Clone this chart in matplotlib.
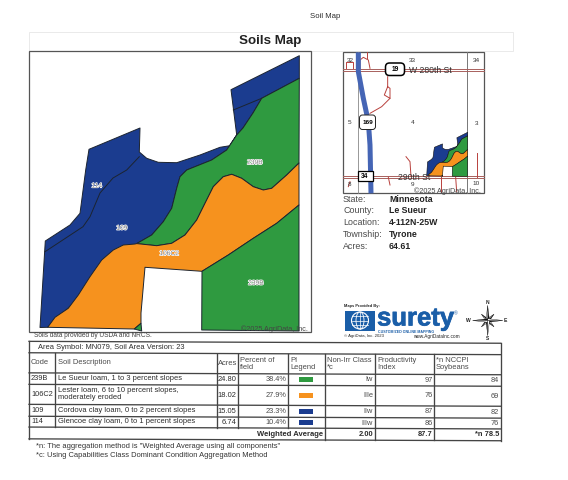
#!/usr/bin/env python3
"""
Soils map page: field map, locator map, info block and soil table
"""

import matplotlib
matplotlib.use('Agg')
import matplotlib.pyplot as plt
import matplotlib.patches as mpatches
import matplotlib.patheffects as pe

plt.rcParams['font.family'] = ['Liberation Sans', 'DejaVu Sans']

GREEN = '#2f9a40'
ORANGE = '#f6921e'
BLUE = '#1b3c8f'
LINE = '#1c2430'
GREY = '#4a4a4a'
DARK = '#2c2c2c'

# soil boundaries in pixels
field_outline = [(299.3, 55.7), (231, 89.7), (236.7, 135), (230, 145.7), (220, 147.3), (200, 155),
                 (176.7, 162.7), (158.3, 162.3), (146.7, 158.3), (139.3, 152), (140, 128), (89, 149.3),
                 (85.7, 170), (80, 213.3), (70, 225), (45.3, 241), (40, 327.5), (47.7, 327.3)]
green_blue_edge = [(299.3, 78.3), (261.7, 98.3), (253, 113), (243, 128), (236.7, 135), (226.7, 150),
                   (211.7, 160), (186.7, 170), (180, 176.7), (176.7, 188.3), (171.7, 208.3),
                   (163.3, 221.7), (151.7, 235), (136.7, 243.6)]
orange_top_edge = [(136.7, 243.6), (156.7, 245.7), (171.7, 243.3), (185, 235), (196.7, 220), (205, 203.3),
                   (213.3, 186.7), (223.3, 176.7), (231.7, 174.3), (241.7, 178.3), (253.3, 186.7),
                   (263.3, 190), (271.7, 188.3), (286.7, 175), (299, 163)]
orange_low_edge = [(299, 205), (276.7, 223.3), (253.3, 238.3), (228.3, 255), (202, 271.3)]
orange_left_edge = [(135, 244), (123.3, 245), (113.3, 250), (101.7, 260), (90, 276.7), (78.3, 295),
                    (68.3, 308.3), (55, 317.3), (47.7, 327.3)]
hole_left_edge = [(145, 267.3), (141, 313), (141, 323.3)]
orange_foot = [(134.3, 329)]
green_low_foot = [(299, 331), (201.7, 330)]
green_sliver = [(134.3, 329), (141, 323.3), (141.7, 331)]
split_line_a = [(139.3, 156.7), (126.7, 170), (113, 178), (100, 193), (90, 216.7), (83, 226.7), (45, 251.7)]
split_line_b = [(233.3, 110), (261.7, 98.3)]

blue_area = field_outline + green_blue_edge[::-1]
green_top = green_blue_edge + orange_top_edge[1:]
orange_area = orange_top_edge + orange_low_edge + hole_left_edge + orange_foot + orange_left_edge[::-1]
green_low = orange_low_edge[::-1] + green_low_foot

soil_labels = ['239B', '114', '109', '106C2', '239B']
soil_label_x = [254.7, 96.7, 121.7, 169, 255.7]
soil_label_y = [162.7, 186, 228.3, 253.7, 283.3]

# table content
table_headers = ['Code', 'Soil Description', 'Acres', 'Percent of\nfield', 'PI\nLegend',
                 'Non-Irr Class\n*c', 'Productivity\nIndex', '*n NCCPI\nSoybeans']
codes = ['239B', '106C2', '109', '114']
descriptions = ['Le Sueur loam, 1 to 3 percent slopes',
                'Lester loam, 6 to 10 percent slopes,\nmoderately eroded',
                'Cordova clay loam, 0 to 2 percent slopes',
                'Glencoe clay loam, 0 to 1 percent slopes']
acres = ['24.80', '18.02', '15.05', '6.74']
percents = ['38.4%', '27.9%', '23.3%', '10.4%']
legend_colors = [GREEN, ORANGE, BLUE, BLUE]
classes = ['Iw', 'IIIe', 'IIw', 'IIIw']
productivity = ['97', '76', '87', '86']
nccpi = ['84', '69', '82', '76']
avg_values = ['2.00', '87.7', '*n 78.5']

info_keys = ['State:', 'County:', 'Location:', 'Township:', 'Acres:']
info_values = ['Minnesota', 'Le Sueur', '4-112N-25W', 'Tyrone', '64.61']

section_numbers = ['32', '33', '34', '5', '4', '3', '8', '9', '10']
section_x = [45, 233, 424, 45, 233, 424, 43, 233, 424]
section_y = [45, 47, 48, 232, 233, 235, 418, 418, 416]

# locator roads
red_roads = [[(33, 70), (33, 50), (55, 50), (55, 70)],
             [(75, 70), (75, 45), (85, 37), (100, 45), (105, 70)],
             [(95, 22), (95, 40)],
             [(158, 95), (158, 125), (148, 150), (165, 160), (165, 130), (158, 125)],
             [(165, 160), (140, 185), (105, 205)],
             [(213, 335), (225, 350), (228, 395)],
             [(427, 325), (427, 395)],
             [(318, 397), (318, 440)],
             [(362, 397), (365, 440)],
             [(160, 397), (165, 420)],
             [(40, 425), (45, 410)]]
highway = [(70, 22), (70, 80), (85, 160), (100, 230), (105, 300), (108, 445)]


def loc(zx, zy):
    # locator crop coordinates to page pixels
    return 335 + zx / 3, 45 + zy / 3


def mini(pts):
    # field polygons shrunk onto the locator
    return [(426.7 + (x - 40) * 0.158, 132.3 + (y - 55.7) * 0.16) for x, y in pts]


def tilt(x, y):
    # the scanned table leans a little
    return y + (x - 265) * 0.004


def put(ax, x, y, s, size=5.4, color=DARK, weight='normal', ha='left', va='center', **kw):
    return ax.text(x, y, s, fontsize=size, color=color, fontweight=weight, ha=ha, va=va,
                   linespacing=1.0, zorder=4, **kw)


fig = plt.figure(figsize=(5.68, 4.8), dpi=100, facecolor='white')
ax = fig.add_axes([0, 0, 1, 1])
ax.set_xlim(0, 568)
ax.set_ylim(480, 0)
ax.set_axis_off()

# page header
put(ax, 325, 17, 'Soil Map', size=5.6, ha='center')
ax.add_patch(mpatches.Rectangle((29, 32), 484, 19, fc='white', ec='#e6e6e6', lw=0.6))
put(ax, 270, 41, 'Soils Map', size=9.6, color='#222222', weight='bold', ha='center')

# field map
soil_polys = [(blue_area, BLUE), (green_top, GREEN), (orange_area, ORANGE), (green_low, GREEN),
              (green_sliver, GREEN)]
for pts, col in soil_polys:
    ax.add_patch(mpatches.Polygon(pts, closed=True, fc=col, ec=LINE, lw=0.7, joinstyle='round'))
for line in (split_line_a, split_line_b):
    ax.plot(*zip(*line), color=LINE, lw=0.7)
ax.add_patch(mpatches.Rectangle((29, 51), 281.5, 280.5, fc='none', ec='#555555', lw=0.9))
for s, x, y in zip(soil_labels, soil_label_x, soil_label_y):
    put(ax, x, y, s, size=4.8, color='#777777', ha='center',
        path_effects=[pe.withStroke(linewidth=0.9, foreground='white')])
put(ax, 308, 329, '©2025 AgriData, Inc.', size=5.2, color='#444444', ha='right')
put(ax, 34, 335.5, 'Soils data provided by USDA and NRCS.', size=4.7, color='#444444')

# locator map
ax.add_patch(mpatches.Rectangle((342.7, 52.3), 141.6, 141, fc='white', ec='#555555', lw=0.9))
ax.plot([358, 358], [52.3, 193.3], color='#888888', lw=0.6)
ax.plot([467.3, 467.3], [52.3, 193.3], color='#777777', lw=0.7)
for y in (68.5, 71.2, 176, 178):
    ax.plot([342.7, 484.3], [y, y], color='#a8605c', lw=0.7)
for road in red_roads:
    ax.plot(*zip(*[loc(x, y) for x, y in road]), color='#b8403c', lw=0.7)
ax.plot(*zip(*[loc(x, y) for x, y in highway]), color='#4565b5', lw=3.6, solid_capstyle='butt')
for pts, col in soil_polys:
    ax.add_patch(mpatches.Polygon(mini(pts), closed=True, fc=col, ec='#111111', lw=0.4, zorder=3))
for s, zx, zy in zip(section_numbers, section_x, section_y):
    x, y = loc(zx, zy)
    put(ax, x, y, s, size=4.6, color='#333333', ha='center')
x, y = loc(287, 76)
put(ax, x, y, 'W 280th St', size=6.2, color='#333333', ha='center')
x, y = loc(238, 397)
put(ax, x, y, '290th St', size=6.2, color='#333333', ha='center')
x, y = loc(338, 437)
put(ax, x, y, '©2025 AgriData, Inc.', size=5.2, color='#444444', ha='center')
ax.add_patch(mpatches.FancyBboxPatch((387, 64.5), 16, 9.5, boxstyle='round,pad=1.5,rounding_size=4',
                                     fc='white', ec='black', lw=1.1, zorder=3))
put(ax, 395, 69.5, '19', size=4.8, color='black', weight='bold', ha='center')
ax.add_patch(mpatches.FancyBboxPatch((360, 115.5), 15, 13.5, boxstyle='round,pad=0.5,rounding_size=3',
                                     fc='white', ec='#222222', lw=0.7, zorder=3))
put(ax, 367.5, 122.3, '169', size=4.6, color='black', weight='bold', ha='center')
ax.add_patch(mpatches.Rectangle((357.5, 171), 15, 10, fc='white', ec='black', lw=0.9, zorder=3))
put(ax, 365, 176, '34', size=4.8, color='black', weight='bold', ha='center')

# info block
for i, (k, v) in enumerate(zip(info_keys, info_values)):
    y = 199 + i * 11.8
    put(ax, 343, y, k, size=6.4, color=GREY)
    put(ax, 389, y, v, size=6.3, color='#222222', weight='bold')

# surety logo
put(ax, 344, 305.5, 'Maps Provided By:', size=2.9, color='#222222', weight='bold')
ax.add_patch(mpatches.Rectangle((345, 310.5), 30, 20, fc='#1a5ea8', ec='none'))
ax.add_patch(mpatches.Circle((360, 320.5), 8.5, fc='none', ec='white', lw=0.8))
ax.add_patch(mpatches.Ellipse((360, 320.5), 8, 17, fc='none', ec='white', lw=0.6))
for y in (316, 320.5, 325):
    ax.plot([352, 368], [y, y], color='white', lw=0.5)
ax.plot([360, 360], [312, 329], color='white', lw=0.5)
put(ax, 377, 325.5, 'surety', size=18.5, color='#1a5ea8', weight='bold', va='baseline',
    path_effects=[pe.withStroke(linewidth=0.5, foreground='#1a5ea8')])
put(ax, 454, 313.5, '®', size=3.5, color='#1a5ea8')
put(ax, 378, 332.2, 'CUSTOMIZED ONLINE MAPPING', size=2.6, color='#1a5ea8', weight='bold')
put(ax, 344, 336.5, '© AgriData, Inc. 2023', size=3.1, color='#222222')
put(ax, 413, 336.5, 'www.AgriDataInc.com', size=3.4, color='#222222')

# compass
cx, cy = 487.7, 320.5
for dx, dy, r in [(0.7, -0.7, 9), (0.7, 0.7, 9), (-0.7, 0.7, 9), (-0.7, -0.7, 9),
                  (0, -1, 15), (1, 0, 15), (0, 1, 15), (-1, 0, 15)]:
    tip = (cx + dx * r, cy + dy * r)
    ax.add_patch(mpatches.Polygon([(cx - dy * 1.8, cy + dx * 1.8), tip, (cx, cy)], fc='#111111', ec='#111111', lw=0.2))
    ax.add_patch(mpatches.Polygon([(cx + dy * 1.8, cy - dx * 1.8), tip, (cx, cy)], fc='white', ec='#111111', lw=0.3))
for s, x, y in [('N', 487.7, 302.5), ('S', 487.7, 338.5), ('W', 468.5, 320), ('E', 505.5, 321)]:
    put(ax, x, y, s, size=3.6, color='#222222', weight='bold', ha='center')

# table grid
col_edges = [29, 55, 216.7, 238.3, 288.3, 325, 375, 434.3, 500.7]
row_edges = [353.7, 373.8, 385.3, 405.3, 417.2, 428]
tbl_top, tbl_bottom = 342.3, 439.8
xl, xr = col_edges[0], col_edges[-1]
grid = dict(color='#444444', lw=0.95)
for y in [tbl_top] + row_edges + [tbl_bottom]:
    ax.plot([xl, xr], [tilt(xl, y), tilt(xr, y)], **grid)
for x in (xl, xr):
    ax.plot([x, x], [tilt(x, tbl_top), tilt(x, tbl_bottom)], **grid)
for x in col_edges[1:-1]:
    bottom = tbl_bottom if x >= col_edges[5] else row_edges[-1]
    ax.plot([x, x], [tilt(x, row_edges[0]), tilt(x, bottom)], **grid)

put(ax, 38, tilt(38, 348.5), 'Area Symbol: MN079, Soil Area Version: 23', size=5.4)

for x, s in zip([31, 57.5, 218, 240, 290, 327, 377, 436], table_headers):
    put(ax, x, tilt(x, (row_edges[0] + row_edges[1]) / 2), s, size=5.4, color=GREY)

for i in range(len(codes)):
    y = (row_edges[i + 1] + row_edges[i + 2]) / 2
    put(ax, 31, tilt(31, y), codes[i], size=5.3)
    put(ax, 57.5, tilt(57.5, y), descriptions[i], size=5.45)
    put(ax, 236.5, tilt(236, y), acres[i], ha='right', size=5.4)
    put(ax, 286.5, tilt(286, y), percents[i], ha='right', size=5.3, color=GREY)
    ax.add_patch(mpatches.Rectangle((299.3, tilt(306, y) - 2.6), 14, 5.2, fc=legend_colors[i], ec='none'))
    put(ax, 373, tilt(373, y), classes[i], ha='right', size=5.3, color=GREY)
    put(ax, 432.5, tilt(432, y), productivity[i], ha='right', size=5.3, color=GREY)
    put(ax, 499, tilt(499, y), nccpi[i], ha='right', size=5.3, color=GREY)

y = (row_edges[-1] + tbl_bottom) / 2
put(ax, 323, tilt(323, y), 'Weighted Average', ha='right', size=5.5, weight='bold')
for x, s in zip([373, 432.5, 499], avg_values):
    put(ax, x, tilt(x, y), s, ha='right', size=5.4, weight='bold')

# footnotes
put(ax, 36, 446, '*n: The aggregation method is "Weighted Average using all components"', size=5.42, color='#333333')
put(ax, 36, 455.3, '*c: Using Capabilities Class Dominant Condition Aggregation Method', size=5.42, color='#333333')

plt.savefig('out.png', dpi=100, facecolor='white')
